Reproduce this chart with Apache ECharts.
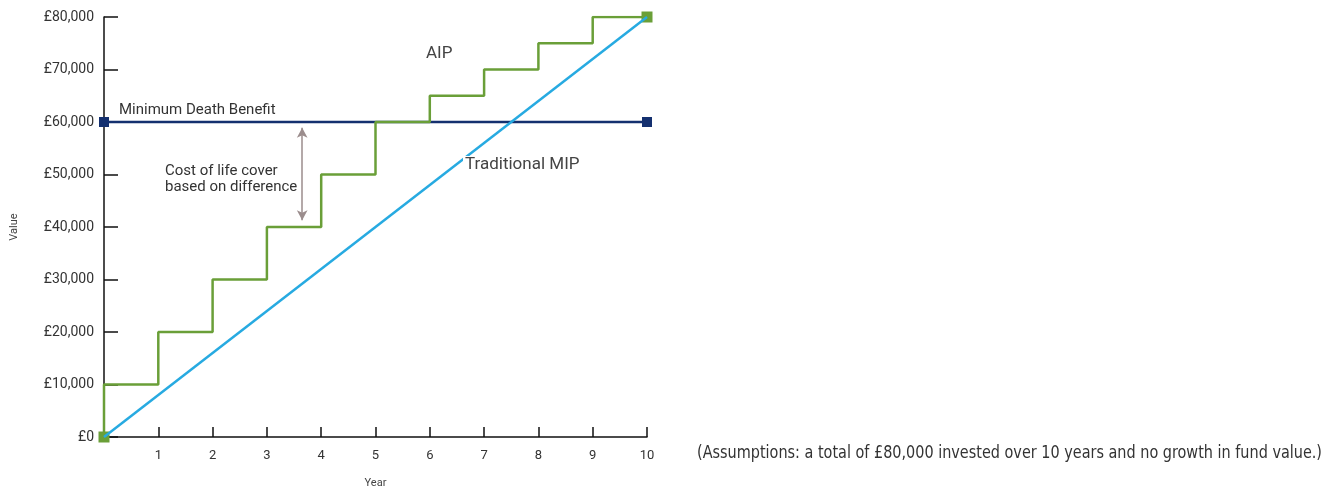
<!DOCTYPE html>
<html>
<head>
<meta charset="utf-8">
<script src="https://cdn.jsdelivr.net/npm/echarts@6/dist/echarts.min.js"></script>
<style>
  html, body { margin: 0; padding: 0; background: #fff; }
  #main { width: 1335px; height: 487px; }
</style>
</head>
<body>
<div id="main"></div>
<script>
// data
var years = [0, 1, 2, 3, 4, 5, 6, 7, 8, 9, 10];
var aipValues = [0, 10000, 20000, 30000, 40000, 50000, 60000, 65000, 70000, 75000, 80000];
var mipValues = [0, 80000];
var mipYears = [0, 10];
var deathBenefit = 60000;
var yTicks = [0, 10000, 20000, 30000, 40000, 50000, 60000, 70000, 80000];

var fontFam = 'Roboto, "Liberation Sans", sans-serif';
var noteFont = '"Liberation Sans Narrow", "DejaVu Sans Condensed", sans-serif';
var noteText = '(Assumptions: a total of £80,000 invested over 10 years and no growth in fund value.)';

function pounds(v) {
  return '£' + String(v).replace(/\B(?=(\d{3})+(?!\d))/g, ',');
}

// squeeze the footnote to the width it takes in the original
var ctx = document.createElement('canvas').getContext('2d');
ctx.font = '17px ' + noteFont;
var noteScale = 625 / ctx.measureText(noteText).width;

var chartDom = document.getElementById('main');
var myChart = echarts.init(chartDom, null, { renderer: 'canvas' });
var option;

option = {
  backgroundColor: '#fff',
  animation: false,
  grid: { left: 104, right: 688, top: 17, bottom: 50, outerBoundsMode: 'none' },
  xAxis: {
    type: 'value',
    min: 0, max: 10, interval: 1,
    name: 'Year',
    nameLocation: 'middle',
    nameGap: 41,
    nameTextStyle: { fontSize: 11, color: '#444', fontFamily: fontFam },
    axisLine: { lineStyle: { color: '#111', width: 1.5 } },
    axisTick: { inside: true, length: 10, lineStyle: { color: '#111', width: 1.5 } },
    axisLabel: {
      fontSize: 13, color: '#333', fontFamily: fontFam, margin: 12,
      formatter: function (v) { return v === 0 ? '' : v; }
    },
    splitLine: { show: false }
  },
  yAxis: {
    type: 'value',
    min: yTicks[0], max: yTicks[yTicks.length - 1], interval: 10000,
    name: 'Value',
    nameLocation: 'middle',
    nameRotate: 90,
    nameGap: 84,
    nameTextStyle: { fontSize: 11, color: '#444', fontFamily: fontFam },
    axisLine: { show: true, lineStyle: { color: '#111', width: 1.5 } },
    axisTick: { show: true, inside: true, length: 14, lineStyle: { color: '#111', width: 1.5 } },
    axisLabel: { fontSize: 14, color: '#333', fontFamily: fontFam, margin: 10, formatter: pounds },
    splitLine: { show: false }
  },
  series: [
    {
      name: 'Minimum Death Benefit',
      type: 'line',
      z: 2,
      data: [[0, deathBenefit], [10, deathBenefit]],
      symbol: 'rect',
      symbolSize: 10,
      itemStyle: { color: '#14306f' },
      lineStyle: { color: '#14306f', width: 2.5 },
      markLine: {
        silent: true,
        symbol: ['arrow', 'arrow'],
        symbolSize: [8, 10],
        label: { show: false },
        lineStyle: { color: '#9b8d8d', width: 1.5, type: 'solid' },
        data: [[{ coord: [3.65, 58900] }, { coord: [3.65, 41300] }]]
      }
    },
    {
      name: 'AIP',
      type: 'line',
      z: 3,
      step: 'start',
      data: years.map(function (y, i) { return [y, aipValues[i]]; }),
      symbol: 'rect',
      symbolSize: function (v, p) { return (p.dataIndex === 0 || p.dataIndex === years.length - 1) ? 11 : 0; },
      itemStyle: { color: '#6a9f38' },
      lineStyle: { color: '#6a9f38', width: 2.5 }
    },
    {
      name: 'Traditional MIP',
      type: 'line',
      z: 4,
      data: mipYears.map(function (y, i) { return [y, mipValues[i]]; }),
      showSymbol: false,
      lineStyle: { color: '#27aae1', width: 2.5 }
    }
  ],
  graphic: [
    {
      type: 'text', left: 119, top: 103, z: 10,
      style: { text: 'Minimum Death Benefit', fontSize: 15, fill: '#333', fontFamily: fontFam }
    },
    {
      type: 'text', left: 165, top: 163, z: 10,
      style: { text: 'Cost of life cover\nbased on difference', fontSize: 15, lineHeight: 16, fill: '#333', fontFamily: fontFam }
    },
    {
      type: 'text', left: 426, top: 45, z: 10,
      style: { text: 'AIP', fontSize: 17, fill: '#444', fontFamily: fontFam }
    },
    {
      type: 'text', left: 463, top: 156, z: 10,
      style: { text: 'Traditional MIP', fontSize: 17, fill: '#444', fontFamily: fontFam, backgroundColor: '#fff', padding: [0, 2, 0, 2] }
    },
    {
      type: 'text', x: 697, y: 445, scaleX: noteScale, z: 10,
      style: { text: noteText, fontSize: 17, fill: '#333', fontFamily: noteFont }
    }
  ]
};
myChart.setOption(option);
</script>
</body>
</html>
